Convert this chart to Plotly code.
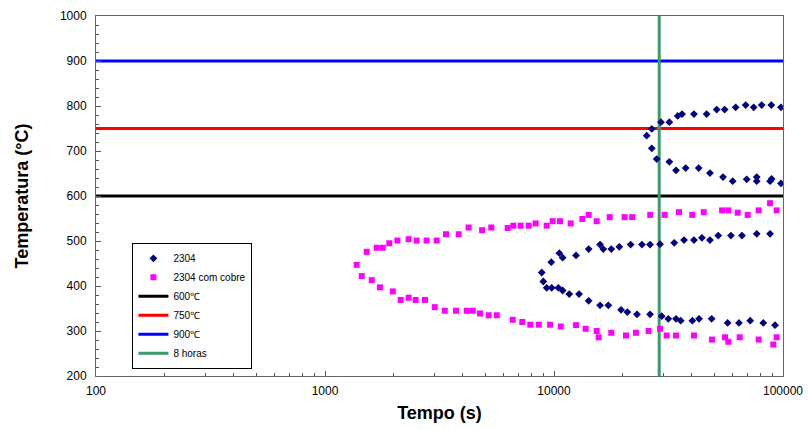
import plotly.graph_objects as go

# ---- data ----
# 2304 (tempo s, temperatura °C)
t_2304 = [8840, 8980,
          9730, 10550, 10910, 12480, 14170, 15890, 16410, 17790, 19280, 21610, 24220, 26270,
          29040, 33500, 36970, 40850, 44250, 47970, 52140, 59260, 66200, 76800, 87800,
          9290, 9770, 10450, 10910, 11660, 12860, 14170, 15890, 17270, 19630, 20910, 23030, 26270,
          29530, 31570, 34110, 35760, 40180, 42980, 48800, 57300, 64200, 71900, 82000, 92300,
          25400, 26730, 29310, 31890, 34700, 36240, 40850, 46400, 51330, 55610, 62130, 68700,
          74470, 80700, 88900, 98000,
          26730, 28080, 31890, 34110, 37580, 42850, 47970, 54700, 60300, 69400, 76800, 76800,
          87800, 89200, 98000]
T_2304 = [430, 410,
          453, 473, 463, 468, 482, 492, 482, 482, 487, 492, 492, 492,
          493, 496, 502, 502, 507, 502, 512, 512, 512, 516, 516,
          396, 396, 396, 390, 382, 382, 367, 357, 357, 347, 342, 337, 337,
          333, 327, 327, 323, 323, 327, 327, 318, 318, 323, 318, 313,
          734, 749, 764, 764, 778, 782, 782, 782, 792, 792, 797, 802,
          797, 802, 802, 797,
          706, 682, 676, 657, 662, 662, 651, 642, 633, 637, 642, 633,
          633, 638, 628]

# 2304 com cobre
t_cobre = [1375,
           1521, 1682, 1787, 1909, 2070, 2319, 2514, 2778, 3074, 3376, 3836, 4240, 4853, 5323,
           6276, 6643, 7156, 7752, 8318, 9290, 9870, 10620, 11830, 13300, 14170, 15360,
           17510, 20340, 21960, 26320, 30410, 35150, 40180, 45060, 54200, 57700, 63400, 70100,
           78300, 87800, 93800,
           1447, 1600, 1738, 1977, 2140, 2319, 2488, 2733, 3015, 3334, 3734, 4159, 4418, 4753,
           5187, 5623, 6601, 7270, 7883, 8580, 9610, 10700, 12480, 13750, 15360, 15670, 17790,
           20620, 22790, 25890, 29040, 31050, 34110, 40850, 48960, 55830, 57700, 64700, 78300,
           90700, 93800]
T_cobre = [447,
           476, 485, 485, 495, 501, 504, 501, 501, 501, 515, 515, 530, 524, 530,
           529, 534, 534, 534, 539, 534, 544, 544, 539, 549, 558, 544,
           553, 553, 553, 558, 558, 564, 558, 564, 568, 568, 563, 558,
           568, 584, 568,
           422, 413, 397, 388, 369, 374, 369, 369, 353, 345, 345, 345, 345, 339,
           335, 335, 325, 320, 314, 314, 314, 310, 313, 305, 300, 286, 296,
           290, 296, 300, 305, 290, 290, 290, 281, 286, 276, 286, 281,
           270, 286]

# reference lines
x_range = [100, 100000]
iso_temps = [600, 750, 900]
iso_names = ["600\u2103", "750\u2103", "900\u2103"]
iso_colors = ["#000000", "#FF0000", "#0000FF"]
t_8h = 28800
y_range = [200, 1000]

x_tickvals = [100, 1000, 10000, 100000]
x_ticktext = ["100", "1000", "10000", "100000"]
x_minor = [m * 10 ** e for e in range(2, 5) for m in range(2, 10)]

fig = go.Figure()

for i, (T, name, col) in enumerate(zip(iso_temps, iso_names, iso_colors)):
    fig.add_trace(go.Scatter(x=x_range, y=[T, T], mode="lines", name=name,
                             line=dict(color=col, width=3), legendrank=10 + i))

fig.add_trace(go.Scatter(x=[t_8h, t_8h], y=y_range, mode="lines", name="8 horas",
                         line=dict(color="#3A9A6A", width=3), legendrank=20))

fig.add_trace(go.Scatter(x=t_2304, y=T_2304, mode="markers", name="2304",
                         marker=dict(symbol="diamond", size=6, color="#000080"), legendrank=1))
fig.add_trace(go.Scatter(x=t_cobre, y=T_cobre, mode="markers", name="2304 com cobre",
                         marker=dict(symbol="square", size=6, color="#FF00FF"), legendrank=2))

axis_font = dict(family="Liberation Sans, Arial", size=12, color="#000000")
title_font = dict(family="Liberation Sans, Arial", size=18, color="#000000")

fig.update_layout(
    width=808, height=430,
    margin=dict(l=96, r=25, t=16, b=54),
    paper_bgcolor="white", plot_bgcolor="white",
    font=axis_font,
    showlegend=True,
    legend=dict(x=0.053, y=0.37, xanchor="left", yanchor="top",
                bgcolor="white", bordercolor="#000000", borderwidth=1,
                font=dict(family="Liberation Sans, Arial", size=10, color="#000000"),
                tracegroupgap=0, itemwidth=30),
    xaxis=dict(type="log", range=[2, 5], tickvals=x_tickvals, ticktext=x_ticktext,
               automargin=False,
               ticks="inside", ticklen=5, tickcolor="#555", showgrid=False, zeroline=False,
               showline=True, linecolor="#666", linewidth=1, mirror=True,
               minor=dict(tickvals=x_minor, ticks="inside", ticklen=3, tickcolor="#555", showgrid=False),
               title=dict(text="<b>Tempo (s)</b>", font=title_font, standoff=8),
               tickfont=axis_font, ticklabelstandoff=4),
    yaxis=dict(range=y_range, dtick=100, tick0=200, automargin=False,
               ticks="inside", ticklen=5, tickcolor="#555", showgrid=False, zeroline=False,
               showline=True, linecolor="#666", linewidth=1, mirror=True,
               minor=dict(dtick=20, ticks="inside", ticklen=3, tickcolor="#555", showgrid=False),
               title=dict(text="<b>Temperatura (°C)</b>", font=title_font, standoff=26),
               tickfont=axis_font, ticklabelstandoff=6),
)

fig.write_html("out.html")
